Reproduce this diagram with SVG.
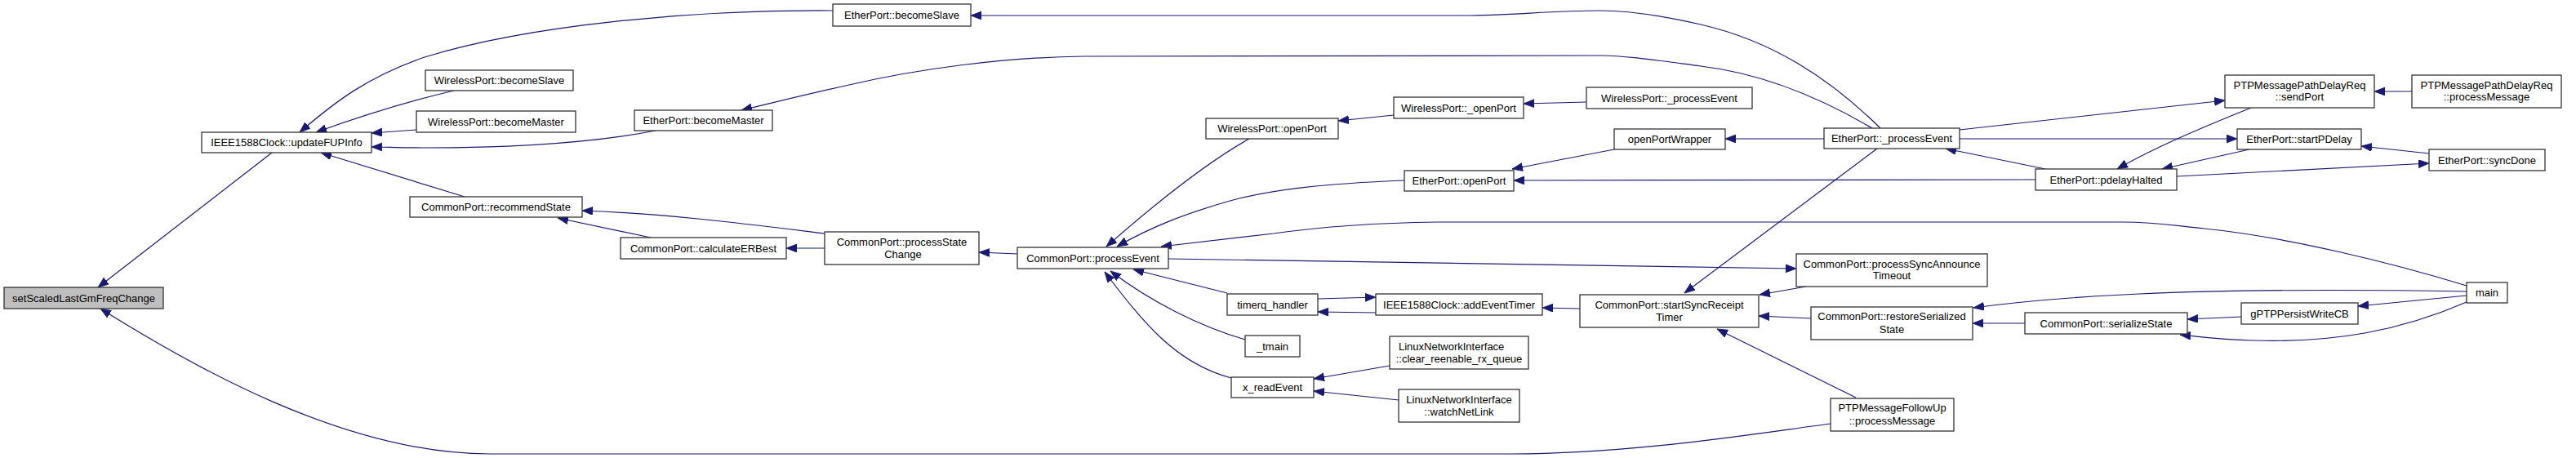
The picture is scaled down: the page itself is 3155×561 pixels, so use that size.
<svg xmlns="http://www.w3.org/2000/svg" width="3155" height="561" viewBox="0 0 3155 561">
<style>
.n rect{fill:#ffffff;stroke:#333333;stroke-width:1.3}
.n text{font-family:"Liberation Sans",Arial,sans-serif;font-size:13px;fill:#000000;text-anchor:middle}
#edges path{fill:none;stroke:#191970;stroke-width:1.2;marker-end:url(#ah)}
</style>
<defs>
<marker id="ah" markerUnits="userSpaceOnUse" markerWidth="14" markerHeight="11" refX="13" refY="5" orient="auto">
<path d="M0,0 L13,5 L0,10 z" fill="#191970" stroke="#191970" stroke-width="0.8"/>
</marker>
</defs>
<rect x="0" y="0" width="3155" height="561" fill="#ffffff"/>
<g id="edges">
<path d="M333,187 L120,352"/>
<path d="M2242,519 C2150,531 2000,556 1850,556 L600,556 C420,556 230,445 123,378"/>
<path d="M556,111 C500,124 440,143 387,162"/>
<path d="M510,159 L455,163"/>
<path d="M803,160 C720,176 620,181 520,181 C490,181 470,180 455,180"/>
<path d="M1020,13 C850,12 650,30 520,70 C450,94 410,125 367,162"/>
<path d="M569,241 L393,187"/>
<path d="M1010,286 C920,275 820,262 713,258"/>
<path d="M797,291 L683,267"/>
<path d="M1010,304 L963,304"/>
<path d="M1246,311 L1199,309"/>
<path d="M2303,157 C2240,95 2170,50 2083,30 C2030,18 1990,13 1960,13 C1900,13 1850,19 1793,19 L1189,19"/>
<path d="M2293,157 C2230,120 2160,90 2083,81 C2030,74 1990,68 1960,68 L1327,69 C1230,70 1120,85 1040,104 C990,115 950,125 908,135"/>
<path d="M1530,170 C1480,198 1420,245 1355,302"/>
<path d="M1720,221 C1620,225 1560,232 1510,245 C1450,262 1410,278 1368,302"/>
<path d="M3021,350 C2930,322 2800,290 2700,280 C2660,276 2640,272 2600,272 L1760,272 C1680,273 1610,279 1560,286 L1422,302"/>
<path d="M1431,317 C1700,320 1950,326 2200,329"/>
<path d="M1503,359 L1388,330"/>
<path d="M1525,416 C1470,400 1410,370 1360,332"/>
<path d="M1508,463 C1440,445 1400,395 1353,333"/>
<path d="M1707,141 L1639,148"/>
<path d="M1943,125 L1866,127"/>
<path d="M1977,183 L1852,207"/>
<path d="M2234,170 L2113,170"/>
<path d="M2493,220 L1854,221"/>
<path d="M2505,207 L2383,182"/>
<path d="M2400,159 L2725,123"/>
<path d="M2757,132 C2700,155 2640,180 2593,207"/>
<path d="M2400,170 L2740,170"/>
<path d="M2755,183 L2648,207"/>
<path d="M2666,216 L2975,200"/>
<path d="M2975,188 L2892,179"/>
<path d="M2954,112 L2908,112"/>
<path d="M2212,351 L2155,361"/>
<path d="M2218,390 L2154,387"/>
<path d="M2273,487 L2103,403"/>
<path d="M2299,182 L2063,359"/>
<path d="M1935,378 L1889,377"/>
<path d="M1685,383 L1614,382"/>
<path d="M1614,366 L1685,364"/>
<path d="M1702,448 L1609,464"/>
<path d="M1713,490 L1609,479"/>
<path d="M2480,396 L2416,396"/>
<path d="M2745,388 L2679,391"/>
<path d="M3021,362 L2888,375"/>
<path d="M3021,370 C2940,405 2860,420 2760,417 C2720,416 2700,413 2670,410"/>
<path d="M3021,357 C2900,355 2750,354 2620,360 C2530,364 2470,370 2417,377"/>
</g>
<g id="n1" class="n"><rect x="5" y="352" width="195" height="26" style="fill:#bfbfbf"/><text x="102.5" y="370">setScaledLastGmFreqChange</text></g>
<g id="n2" class="n"><rect x="247" y="162" width="208" height="25"/><text x="351" y="179">IEEE1588Clock::updateFUPInfo</text></g>
<g id="n3" class="n"><rect x="521" y="86" width="181" height="25"/><text x="611.5" y="103">WirelessPort::becomeSlave</text></g>
<g id="n4" class="n"><rect x="510" y="136" width="195" height="26"/><text x="607.5" y="153.5">WirelessPort::becomeMaster</text></g>
<g id="n5" class="n"><rect x="502" y="241" width="211" height="25"/><text x="607.5" y="258">CommonPort::recommendState</text></g>
<g id="n6" class="n"><rect x="1020" y="5" width="169" height="27"/><text x="1104.5" y="23">EtherPort::becomeSlave</text></g>
<g id="n7" class="n"><rect x="777" y="135" width="169" height="25"/><text x="861.5" y="152">EtherPort::becomeMaster</text></g>
<g id="n8" class="n"><rect x="760" y="291" width="203" height="26"/><text x="861.5" y="308.5">CommonPort::calculateERBest</text></g>
<g id="n9" class="n"><rect x="1010" y="284" width="189" height="40"/><text x="1104.5" y="301">CommonPort::processState</text><text x="1106" y="316">Change</text></g>
<g id="n10" class="n"><rect x="1246" y="303" width="185" height="26"/><text x="1338.5" y="320.5">CommonPort::processEvent</text></g>
<g id="n11" class="n"><rect x="1477" y="145" width="162" height="25"/><text x="1558" y="162">WirelessPort::openPort</text></g>
<g id="n12" class="n"><rect x="1707" y="119" width="159" height="26"/><text x="1786.5" y="136.5">WirelessPort::_openPort</text></g>
<g id="n13" class="n"><rect x="1943" y="107" width="203" height="26"/><text x="2044.5" y="124.5">WirelessPort::_processEvent</text></g>
<g id="n14" class="n"><rect x="1977" y="158" width="136" height="25"/><text x="2045" y="175">openPortWrapper</text></g>
<g id="n15" class="n"><rect x="1720" y="209" width="134" height="25"/><text x="1787" y="226">EtherPort::openPort</text></g>
<g id="n16" class="n"><rect x="1503" y="360" width="111" height="26"/><text x="1558.5" y="377.5">timerq_handler</text></g>
<g id="n17" class="n"><rect x="1525" y="411" width="67" height="26"/><text x="1558.5" y="428.5">_tmain</text></g>
<g id="n18" class="n"><rect x="1508" y="462" width="101" height="25"/><text x="1558.5" y="479">x_readEvent</text></g>
<g id="n19" class="n"><rect x="1685" y="360" width="204" height="26"/><text x="1787" y="377.5">IEEE1588Clock::addEventTimer</text></g>
<g id="n20" class="n"><rect x="1702" y="412" width="170" height="40"/><text x="1713" y="428.5" style="text-anchor:start">LinuxNetworkInterface</text><text x="1787" y="443.5">::clear_reenable_rx_queue</text></g>
<g id="n21" class="n"><rect x="1713" y="477" width="148" height="40"/><text x="1787" y="493.5">LinuxNetworkInterface</text><text x="1787" y="508.5">::watchNetLink</text></g>
<g id="n22" class="n"><rect x="1935" y="361" width="219" height="40"/><text x="2044.5" y="377.5">CommonPort::startSyncReceipt</text><text x="2044.5" y="392.5">Timer</text></g>
<g id="n23" class="n"><rect x="2234" y="157" width="166" height="25"/><text x="2317" y="174">EtherPort::_processEvent</text></g>
<g id="n24" class="n"><rect x="2493" y="207" width="173" height="26"/><text x="2579.5" y="224.5">EtherPort::pdelayHalted</text></g>
<g id="n25" class="n"><rect x="2200" y="311" width="234" height="40"/><text x="2317" y="327.5">CommonPort::processSyncAnnounce</text><text x="2317" y="341.5">Timeout</text></g>
<g id="n26" class="n"><rect x="2218" y="376" width="198" height="40"/><text x="2317" y="392">CommonPort::restoreSerialized</text><text x="2317" y="407.5">State</text></g>
<g id="n27" class="n"><rect x="2242" y="488" width="151" height="40"/><text x="2317.5" y="504">PTPMessageFollowUp</text><text x="2317.5" y="519.5">::processMessage</text></g>
<g id="n28" class="n"><rect x="2480" y="383" width="199" height="26"/><text x="2579.5" y="400.5">CommonPort::serializeState</text></g>
<g id="n29" class="n"><rect x="2725" y="92" width="183" height="40"/><text x="2816.5" y="108.5">PTPMessagePathDelayReq</text><text x="2816.5" y="123">::sendPort</text></g>
<g id="n30" class="n"><rect x="2954" y="92" width="183" height="40"/><text x="3045.5" y="108.5">PTPMessagePathDelayReq</text><text x="3045.5" y="123">::processMessage</text></g>
<g id="n31" class="n"><rect x="2740" y="158" width="152" height="25"/><text x="2816" y="175">EtherPort::startPDelay</text></g>
<g id="n32" class="n"><rect x="2975" y="183" width="142" height="26"/><text x="3046" y="200.5">EtherPort::syncDone</text></g>
<g id="n33" class="n"><rect x="2745" y="371" width="143" height="26"/><text x="2816.5" y="388.5">gPTPPersistWriteCB</text></g>
<g id="n34" class="n"><rect x="3021" y="346" width="50" height="25"/><text x="3046" y="363">main</text></g>
</svg>
